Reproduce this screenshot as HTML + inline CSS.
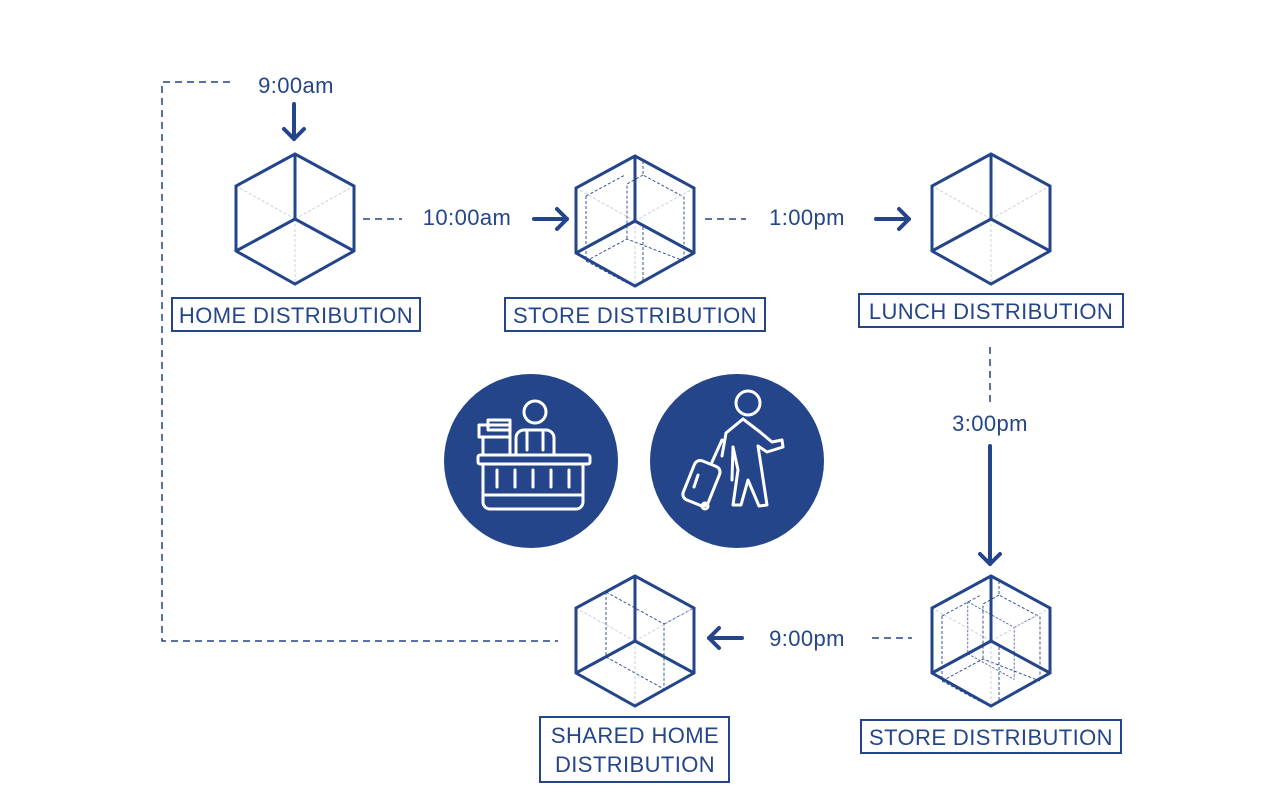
<!DOCTYPE html>
<html><head><meta charset="utf-8"><style>
html,body{margin:0;padding:0;background:#fff;}
svg{display:block;}
text{font-family:"Liberation Sans",sans-serif;fill:#24458a;font-size:22px;letter-spacing:0.4px;}
</style></head><body>
<svg width="1280" height="800" viewBox="0 0 1280 800" xmlns="http://www.w3.org/2000/svg">
<defs>
<g id="hex">
  <line x1="0" y1="0" x2="-59" y2="-33" stroke="#c9d0e2" stroke-width="1" stroke-dasharray="3 2"/>
  <line x1="0" y1="0" x2="59" y2="-33" stroke="#c9d0e2" stroke-width="1" stroke-dasharray="3 2"/>
  <line x1="0" y1="0" x2="0" y2="65" stroke="#c9d0e2" stroke-width="1" stroke-dasharray="3 2"/>
  <polygon points="0,-65 59,-33 59,32 0,65 -59,32 -59,-33" fill="none" stroke="#24458a" stroke-width="3" stroke-linejoin="miter"/>
  <line x1="0" y1="0" x2="0" y2="-65" stroke="#24458a" stroke-width="3"/>
  <line x1="0" y1="0" x2="59" y2="32" stroke="#24458a" stroke-width="3"/>
  <line x1="0" y1="0" x2="-59" y2="32" stroke="#24458a" stroke-width="3"/>
</g>
<g id="inner" fill="none" stroke="#24458a" stroke-width="0.9" stroke-dasharray="3 2">
  <polyline points="-29,-49 -29,16 29,48"/>
  <polyline points="-29,16 -59,32"/>
  <polyline points="-29,-49 29,-17 29,48"/>
  <polyline points="29,-17 59,-33"/>
</g>
<g id="inner2" fill="none" stroke="#24458a" stroke-width="0.9" stroke-dasharray="3 2">
  <polyline points="-49,-25 -49,40 -8,62"/>
  <polyline points="-49,-25 -10,-46"/>
  <polyline points="8,-60 8,-46 49,-24 49,40"/>
  <polyline points="-49,40 -8,18 49,40"/>
  <polyline points="8,-46 -8,-37 -8,18"/>
  <polyline points="8,6 8,62"/>
</g>
</defs>

<use href="#hex" x="295" y="219"/>
<g transform="translate(635,221)"><use href="#inner2"/><use href="#hex"/></g>
<use href="#hex" x="991" y="219"/>
<g transform="translate(635,641)"><use href="#inner"/><use href="#hex"/></g>
<g transform="translate(991,641)"><use href="#inner2"/><use href="#inner" transform="scale(0.8)"/><use href="#hex"/></g>

<g fill="none" stroke="#24458a" stroke-width="2">
<rect x="172" y="298" width="248" height="33"/>
<rect x="505" y="298" width="260" height="33"/>
<rect x="859" y="294" width="264" height="33"/>
<rect x="861" y="720" width="260" height="33"/>
<rect x="540" y="717" width="189" height="65"/>
</g>
<text x="296" y="323" text-anchor="middle">HOME DISTRIBUTION</text>
<text x="635" y="323" text-anchor="middle">STORE DISTRIBUTION</text>
<text x="991" y="319" text-anchor="middle">LUNCH DISTRIBUTION</text>
<text x="991" y="745" text-anchor="middle">STORE DISTRIBUTION</text>
<text x="635" y="743" text-anchor="middle">SHARED HOME</text>
<text x="635" y="772" text-anchor="middle">DISTRIBUTION</text>

<text x="296" y="93" text-anchor="middle">9:00am</text>
<text x="467" y="225" text-anchor="middle">10:00am</text>
<text x="807" y="225" text-anchor="middle">1:00pm</text>
<text x="990" y="431" text-anchor="middle">3:00pm</text>
<text x="807" y="646" text-anchor="middle">9:00pm</text>

<g fill="none" stroke="#24458a" stroke-width="1.5" stroke-dasharray="7 5">
<polyline points="230,82 162,82 162,641 558,641"/>
<line x1="363" y1="219" x2="402" y2="219"/>
<line x1="705" y1="219" x2="746" y2="219"/>
<line x1="990" y1="347" x2="990" y2="402"/>
<line x1="872" y1="638" x2="912" y2="638"/>
</g>

<g fill="none" stroke="#24458a" stroke-width="4" stroke-linecap="round" stroke-linejoin="round">
<line x1="294" y1="104" x2="294" y2="139"/><polyline points="284,129 294,139 304,129"/>
<line x1="534" y1="219" x2="567" y2="219"/><polyline points="557,209 567,219 557,229"/>
<line x1="876" y1="219" x2="909" y2="219"/><polyline points="899,209 909,219 899,229"/>
<line x1="990" y1="446" x2="990" y2="564"/><polyline points="980,554 990,564 1000,554"/>
<line x1="742" y1="638" x2="709" y2="638"/><polyline points="719,628 709,638 719,648"/>
</g>

<circle cx="531" cy="461" r="87" fill="#24458a"/>
<circle cx="737" cy="461" r="87" fill="#24458a"/>
<g fill="none" stroke="#fff" stroke-width="3" stroke-linejoin="round" stroke-linecap="round">
<circle cx="535" cy="412" r="11"/>
<path d="M516,455 V438 a8,8 0 0 1 8,-8 h22 a8,8 0 0 1 8,8 V455"/>
<path d="M527,432 V450 M543,432 V450"/>
<rect x="488" y="420" width="22" height="10"/>
<rect x="479" y="425" width="31" height="12"/>
<rect x="483" y="437" width="27" height="18"/>
<rect x="478" y="455" width="112" height="9" rx="2"/>
<path d="M483,464 V502 a7,7 0 0 0 7,7 H576 a7,7 0 0 0 7,-7 V464"/>
<path d="M483,495 H583"/>
<path d="M497,470 V487 M515,470 V487 M533,470 V487 M551,470 V487 M569,470 V487"/>
</g>
<g fill="none" stroke="#fff" stroke-width="3" stroke-linejoin="round" stroke-linecap="round">
<circle cx="748" cy="403" r="12"/>
<path d="M743,419 L726,433 L722,456 M743,419 L760,432 L772,442 L782,440 L783,447 L767,452 L758,446 L762,472 L767,505 L759,506 L748,480 L741,505 L733,505 L738,470 L733,447"/>
<path d="M733,447 L732,480"/>
<rect x="688" y="462" width="27" height="42" rx="6" transform="rotate(22 701 483)"/>
<line x1="712" y1="462" x2="722" y2="440"/>
<line x1="698" y1="475" x2="694" y2="487"/>
<circle cx="705" cy="506" r="3"/>
</g>
</svg>
</body></html>
